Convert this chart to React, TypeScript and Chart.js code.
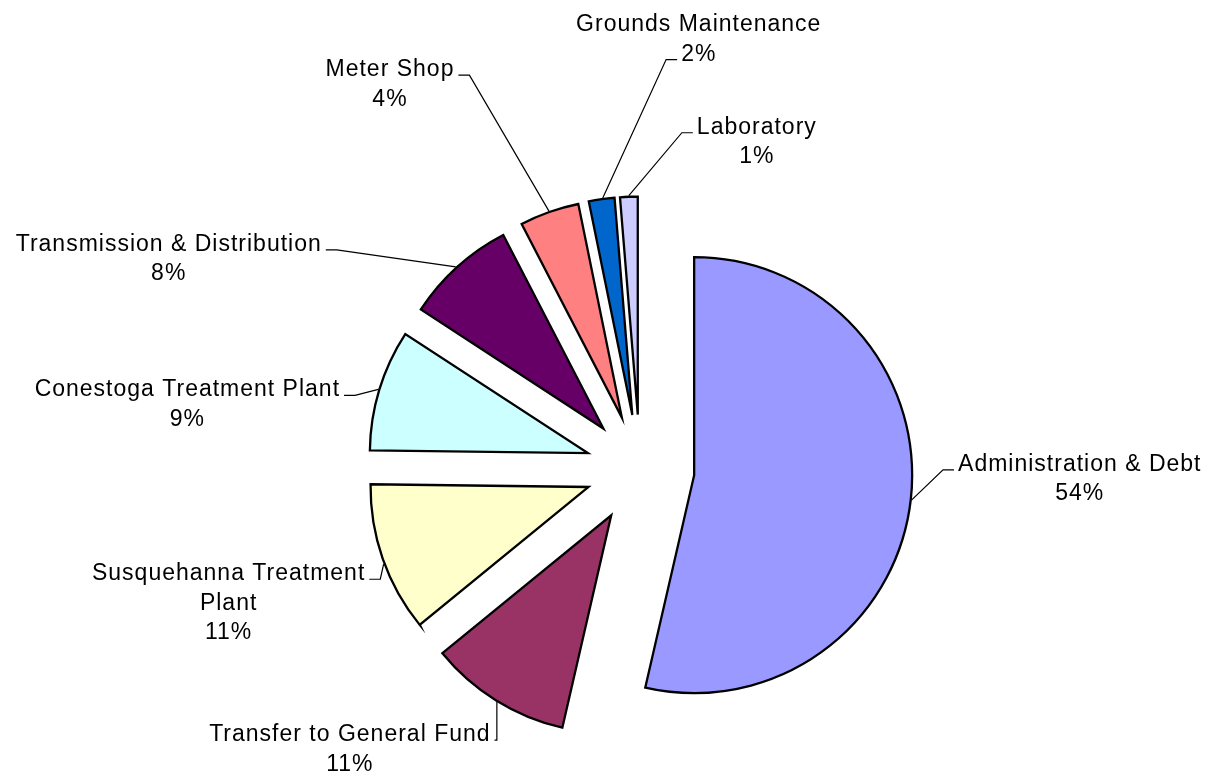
import { useEffect, useRef } from 'react';
import { Chart, registerables } from 'chart.js';

Chart.register(...registerables);

// ---- data ----
const categories = [
  'Administration & Debt',
  'Transfer to General Fund',
  'Susquehanna Treatment Plant',
  'Conestoga Treatment Plant',
  'Transmission & Distribution',
  'Meter Shop',
  'Grounds Maintenance',
  'Laboratory',
];
// shares (they round to the printed percentages)
const values = [53.6, 10.5, 11.1, 9.0, 8.2, 4.4, 1.9, 1.3];
const labelLines = [
  ['Administration & Debt'],
  ['Transfer to General Fund'],
  ['Susquehanna Treatment', 'Plant'],
  ['Conestoga Treatment Plant'],
  ['Transmission & Distribution'],
  ['Meter Shop'],
  ['Grounds Maintenance'],
  ['Laboratory'],
];
const colors = ['#9999FF', '#993366', '#FFFFCC', '#CCFFFF', '#660066', '#FF8080', '#0066CC', '#CCCCFF'];

// ---- layout / style ----
const RADIUS = 218;
const EXPLODE = 54.5;
const FONT = '23px "Liberation Sans", Arial, sans-serif';
const LETTER_SPACING = '1px';
const LINE_H = 29.5;
const GAP = 4;
const ELBOW = 11;
// frac: where along the arc the leader starts; dx/dy: label centre / first baseline relative to that point
const labelLayout = [
  { frac: 0.5, dx: 168, dy: -29, side: 'right', attach: 0 },
  { frac: 0.49, dx: -147, dy: 39, side: 'left', attach: 0 },
  { frac: 0.465, dx: -155, dy: 16, side: 'left', attach: 0 },
  { frac: 0.5, dx: -191, dy: 7, side: 'left', attach: 0 },
  { frac: 0.49, dx: -287, dy: -16, side: 'left', attach: 0 },
  { frac: 0.5, dx: -159, dy: -135, side: 'left', attach: 0 },
  { frac: 0.55, dx: 96, dy: -167, side: 'right', attach: 1 },
  { frac: 0.5, dx: 128, dy: -62, side: 'right', attach: 0 },
];

const explodePlugin = {
  id: 'explode',
  beforeDatasetDraw(chart: any, args: any) {
    const ctx = chart.ctx;
    args.meta.data.forEach((arc: any) => {
      const mid = (arc.startAngle + arc.endAngle) / 2;
      ctx.save();
      ctx.translate(Math.cos(mid) * EXPLODE, Math.sin(mid) * EXPLODE);
      arc.draw(ctx);
      ctx.restore();
    });
    return false;
  },
};

const labelPlugin = {
  id: 'pieLabels',
  afterDatasetsDraw(chart: any) {
    const ctx = chart.ctx;
    const meta = chart.getDatasetMeta(0);
    const total = values.reduce((a, b) => a + b, 0);
    ctx.save();
    ctx.font = FONT;
    try { (ctx as any).letterSpacing = LETTER_SPACING; } catch (e) {}
    ctx.fillStyle = '#000';
    ctx.strokeStyle = '#000';
    ctx.lineWidth = 1.2;
    meta.data.forEach((arc: any, i: number) => {
      const lay = labelLayout[i];
      const mid = (arc.startAngle + arc.endAngle) / 2;
      const ox = arc.x + Math.cos(mid) * EXPLODE;
      const oy = arc.y + Math.sin(mid) * EXPLODE;
      const a = arc.startAngle + lay.frac * (arc.endAngle - arc.startAngle);
      const r = arc.outerRadius + 1;
      const ax = ox + Math.cos(a) * r;
      const ay = oy + Math.sin(a) * r;
      const lines = [...labelLines[i], `${Math.round((values[i] / total) * 100)}%`];
      const tx = ax + lay.dx;
      const ty = ay + lay.dy;
      ctx.textAlign = 'center';
      ctx.textBaseline = 'alphabetic';
      lines.forEach((ln, k) => ctx.fillText(ln, tx, ty + k * LINE_H));
      const w = ctx.measureText(lines[lay.attach]).width;
      const dir = lay.side === 'left' ? 1 : -1;
      const ex = lay.side === 'left' ? tx + w / 2 + GAP : tx - w / 2 - GAP;
      const ey = ty + lay.attach * LINE_H - 1;
      const elx = ex + dir * Math.min(ELBOW, Math.abs(ax - ex));
      ctx.beginPath();
      ctx.moveTo(ax, ay);
      ctx.lineTo(elx, ey);
      ctx.lineTo(ex, ey);
      ctx.stroke();
    });
    ctx.restore();
  },
};

export default function App() {
  const ref = useRef<HTMLCanvasElement>(null);
  useEffect(() => {
    const chart = new Chart(ref.current as HTMLCanvasElement, {
      type: 'pie',
      data: {
        labels: categories,
        datasets: [
          {
            data: values,
            backgroundColor: colors,
            borderColor: '#000000',
            borderWidth: 2.3,
            borderJoinStyle: 'miter',
            radius: RADIUS,
          } as any,
        ],
      },
      options: {
        responsive: false,
        animation: false,
        events: [],
        layout: { padding: { left: 71, right: 0, top: 161, bottom: 0 } },
        plugins: { legend: { display: false }, tooltip: { enabled: false }, title: { display: false } },
      } as any,
      plugins: [explodePlugin, labelPlugin],
    });
    return () => chart.destroy();
  }, []);
  return (
    <div style={{ position: 'absolute', left: 0, top: 0, width: 1209, height: 777, background: '#ffffff' }}>
      <canvas ref={ref} width={1209} height={777} style={{ display: 'block' }} />
    </div>
  );
}
